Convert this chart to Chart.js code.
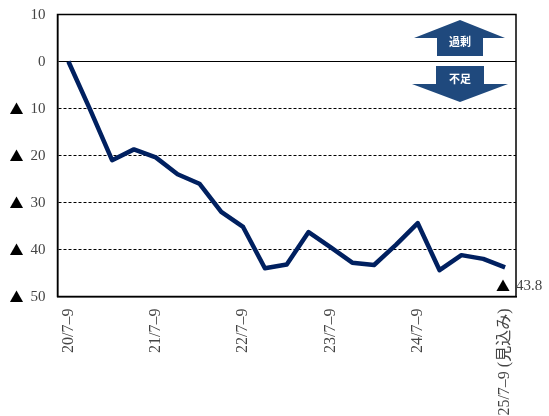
<!DOCTYPE html>
<html>
<head>
<meta charset="utf-8">
<script src="https://cdn.jsdelivr.net/npm/chart.js@4/dist/chart.umd.min.js"></script>
<style>
  html,body{margin:0;padding:0;background:#fff;overflow:hidden;}
  canvas{display:block;}
</style>
</head>
<body>
<canvas id="c" width="549" height="416"></canvas>
<script>
const categories = [
  '20/7–9','','','',
  '21/7–9','','','',
  '22/7–9','','','',
  '23/7–9','','','',
  '24/7–9','','','',
  '25/7–9 (見込み)'
];
const values = [0,-10.3,-21,-18.7,-20.4,-24,-26,-32,-35.2,-44,-43.2,-36.3,-39.5,-42.8,-43.3,-39,-34.4,-44.4,-41.2,-42,-43.8];
const lastLabel = '43.8';
const upLabel = '過剰';
const downLabel = '不足';

const SERIF = '"Liberation Serif","Noto Sans CJK JP",serif';
const TRI_FONT = '14px "Noto Sans CJK JP"';

// box round the plot, arrows, ▲ signs and the last value label
const extras = {
  id:'extras',
  afterDraw(chart){
    const g = chart.ctx, a = chart.chartArea;
    g.save();
    g.strokeStyle = '#000';
    g.lineWidth = 1.5;
    g.strokeRect(a.left, a.top, a.right-a.left, a.bottom-a.top);

    g.fillStyle = '#1f497d';
    poly(g,[[460,20],[505,38],[483,38],[483,56],[437,56],[437,38],[414,38]]);
    poly(g,[[436,66],[484,66],[484,84],[508,84],[460,102],[412,84],[436,84]]);

    g.fillStyle = '#fff';
    g.font = 'bold 11px "Noto Sans CJK JP"';
    g.textAlign = 'center';
    g.textBaseline = 'middle';
    g.fillText(upLabel,460,42);
    g.fillText(downLabel,460,79);

    // ▲ in front of the negative ticks
    g.fillStyle = '#000';
    g.font = TRI_FONT;
    chart.scales.y.ticks.forEach(t=>{
      if(t.value<0) g.fillText('▲',16.5,chart.scales.y.getPixelForValue(t.value));
    });

    // ▲ 43.8 next to the last point
    const i = values.length-1;
    const x = chart.scales.x.getPixelForValue(i);
    const y = chart.scales.y.getPixelForValue(values[i]);
    g.fillText('▲',x-2,y+18);
    g.fillStyle = '#444';
    g.font = '15px '+SERIF;
    g.textAlign = 'left';
    g.fillText(lastLabel,516,y+19);
    g.restore();
  }
};
function poly(g,pts){
  g.beginPath();
  pts.forEach((p,i)=> i? g.lineTo(p[0],p[1]) : g.moveTo(p[0],p[1]));
  g.closePath();
  g.fill();
}

new Chart(document.getElementById('c'),{
  type:'line',
  data:{labels:categories,datasets:[{
    data:values,
    borderColor:'#002060',
    borderWidth:4.5,
    pointRadius:0,
    tension:0,
    borderJoinStyle:'round',
    clip:false
  }]},
  options:{
    responsive:false,
    animation:false,
    layout:{padding:{top:14.5,right:33,left:0,bottom:0}},
    plugins:{legend:{display:false},tooltip:{enabled:false}},
    scales:{
      x:{
        offset:true,
        grid:{display:false},
        border:{color:'#000',width:1.5},
        afterFit(s){s.height=119.5;s.paddingLeft=0;s.paddingRight=0;},
        ticks:{
          autoSkip:false,maxRotation:90,minRotation:90,padding:4,
          color:'#444',font:{family:SERIF,size:16}
        }
      },
      y:{
        min:-50,max:10,
        afterFit(s){s.width=57.5;s.paddingTop=0;s.paddingBottom=0;},
        border:{color:'#000',width:1.5,dash:c=>c.tick&&c.tick.value>=0?[]:[3,2]},
        grid:{
          drawTicks:false,
          color:c=>(c.tick.value===-50?'rgba(0,0,0,0)':'#000'),
          lineWidth:1
        },
        ticks:{
          stepSize:10,padding:12,color:'#444',labelOffset:1,
          font:{family:SERIF,size:15},
          callback:v=>String(Math.abs(v))
        }
      }
    }
  },
  plugins:[extras]
});
</script>
</body>
</html>
